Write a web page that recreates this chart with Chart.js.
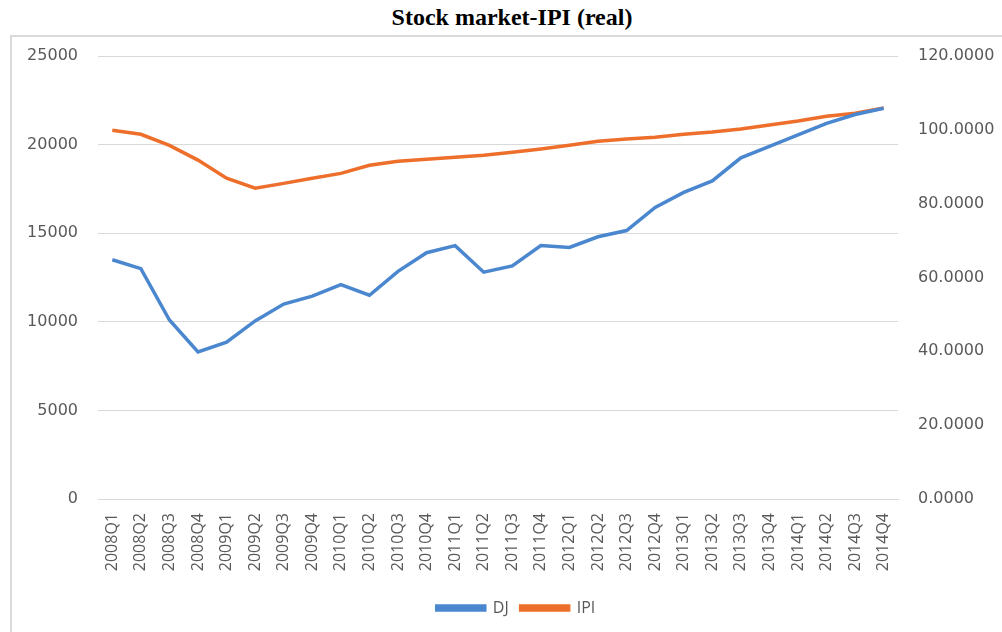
<!DOCTYPE html>
<html lang="en">
<head>
    <meta charset="UTF-8">
    <title>Stock market-IPI (real)</title>
    <style>
        body { margin: 0; background: #fff; }
        #judul {
            position: absolute; left: 0; top: 4px; width: 1024px;
            text-align: center;
            font: bold 24px "Liberation Serif", "Times New Roman", serif;
            color: #000;
        }
        #grafik-container {
            position: absolute; left: 10px; top: 35px;
            width: 990px; height: 597px;
            border: 2px solid #d9d9d9;
        }
    </style>
</head>
<body>
    <div id="judul">Stock market-IPI (real)</div>
    <div id="grafik-container">
        <canvas id="grafikGaris" width="990" height="597"></canvas>
    </div>

    <script src="https://cdn.jsdelivr.net/npm/chart.js@4.4.0/dist/chart.umd.min.js"></script>
    <script>
        // data
        var kuartal = ['2008Q1', '2008Q2', '2008Q3', '2008Q4', '2009Q1', '2009Q2', '2009Q3', '2009Q4',
            '2010Q1', '2010Q2', '2010Q3', '2010Q4', '2011Q1', '2011Q2', '2011Q3', '2011Q4',
            '2012Q1', '2012Q2', '2012Q3', '2012Q4', '2013Q1', '2013Q2', '2013Q3', '2013Q4',
            '2014Q1', '2014Q2', '2014Q3', '2014Q4'];
        var dj = [13500, 13000, 10100, 8300, 8850, 10050, 11000, 11450,
            12100, 11500, 12850, 13900, 14300, 12800, 13150, 14300,
            14200, 14800, 15150, 16450, 17300, 17950, 19250, 19900,
            20550, 21200, 21700, 22050];
        var ipi = [99.9, 98.8, 95.8, 91.8, 86.9, 84.2, 85.5, 86.9,
            88.2, 90.4, 91.5, 92.0, 92.6, 93.1, 93.9, 94.8,
            95.8, 96.9, 97.5, 98.0, 98.8, 99.4, 100.2, 101.3,
            102.4, 103.7, 104.5, 105.9];
        var tickKiri = [0, 5000, 10000, 15000, 20000, 25000];
        var tickKanan = [0, 20, 40, 60, 80, 100, 120];

        var biru = '#4a87cf';
        var oranye = '#ed6f2b';
        var abu = '#595959';
        var fontSumbu = { family: '"DejaVu Sans", sans-serif', size: 16 };

        var ctx = document.getElementById('grafikGaris').getContext('2d');

        // lebar sumbu y tetap, tanpa padding ekstra di atas/bawah
        function aturSumbuY(lebar) {
            return function (s) {
                s.width = lebar;
                s.paddingTop = 0;
                s.paddingBottom = 0;
            };
        }

        // geser legenda sedikit ke kanan, seperti di gambar asli
        const geserLegenda = {
            id: 'geserLegenda',
            afterLayout: function (chart) {
                if (chart.legend) {
                    chart.legend.left += 9;
                    chart.legend.right += 9;
                }
            }
        };

        const grafik = new Chart(ctx, {
            type: 'line',
            data: {
                labels: kuartal,
                datasets: [
                    {
                        label: 'DJ',
                        data: dj,
                        yAxisID: 'kiri',
                        borderColor: biru,
                        backgroundColor: biru,
                        borderWidth: 3.5,
                        pointRadius: 0,
                        tension: 0
                    },
                    {
                        label: 'IPI',
                        data: ipi,
                        yAxisID: 'kanan',
                        borderColor: oranye,
                        backgroundColor: oranye,
                        borderWidth: 3.5,
                        pointRadius: 0,
                        tension: 0
                    }
                ]
            },
            plugins: [geserLegenda],
            options: {
                responsive: false,
                animation: false,
                layout: { padding: { top: 19, left: 0, right: 0, bottom: 8 } },
                plugins: {
                    title: { display: false },
                    tooltip: { enabled: false },
                    legend: {
                        position: 'bottom',
                        labels: {
                            boxWidth: 48,
                            boxHeight: 4,
                            color: abu,
                            font: { family: '"Open Sans", sans-serif', size: 16 },
                            padding: 12
                        }
                    }
                },
                scales: {
                    x: {
                        offset: true,
                        grid: { display: false, drawTicks: false },
                        border: { display: true, color: '#d9d9d9', width: 1 },
                        ticks: {
                            color: abu,
                            font: { family: '"Open Sans", sans-serif', size: 16 },
                            minRotation: 90,
                            maxRotation: 90,
                            autoSkip: false,
                            padding: 14
                        },
                        afterFit: function (s) { s.height = 89; }
                    },
                    kiri: {
                        position: 'left',
                        min: 0,
                        max: 25000,
                        afterBuildTicks: function (s) { s.ticks = tickKiri.map(function (v) { return { value: v }; }); },
                        grid: { color: '#d9d9d9', drawTicks: false },
                        border: { display: false },
                        ticks: {
                            color: abu,
                            font: fontSumbu,
                            padding: 20,
                            callback: function (v) { return String(v); }
                        },
                        afterFit: aturSumbuY(86)
                    },
                    kanan: {
                        position: 'right',
                        min: 0,
                        max: 120,
                        afterBuildTicks: function (s) { s.ticks = tickKanan.map(function (v) { return { value: v }; }); },
                        grid: { display: false, drawTicks: false },
                        border: { display: false },
                        ticks: {
                            color: abu,
                            font: fontSumbu,
                            padding: 20,
                            callback: function (v) { return v.toFixed(4); }
                        },
                        afterFit: aturSumbuY(104)
                    }
                }
            }
        });
    </script>
</body>
</html>
